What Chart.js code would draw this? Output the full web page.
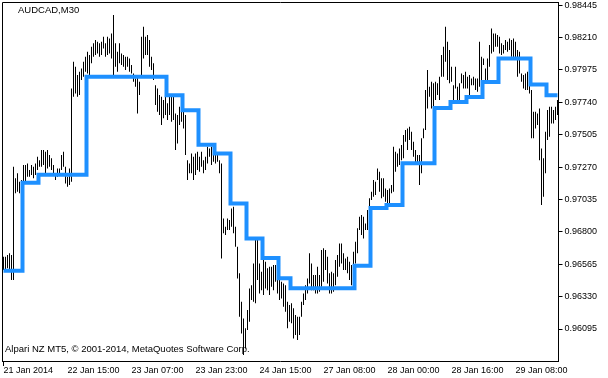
<!DOCTYPE html>
<html>
<head>
<meta charset="utf-8">
<script src="https://cdn.jsdelivr.net/npm/chart.js@4/dist/chart.umd.min.js"></script>
<style>
  html, body { margin: 0; padding: 0; background: #fff; }
  #wrap { width: 608px; height: 378px; position: relative; }
</style>
</head>
<body>
<div id="wrap"><canvas id="audcad"></canvas></div>
<script>
/* AUDCAD, M30 — bar chart with an H4 step line over it */

const symbol = 'AUDCAD,M30';
const footer = 'Alpari NZ MT5, \u00a9 2001-2014, MetaQuotes Software Corp.';

const yTicks = [0.98445, 0.98210, 0.97975, 0.97740, 0.97505, 0.97270,
                0.97035, 0.96800, 0.96565, 0.96330, 0.96095];
const xTickLabels = ['21 Jan 2014', '22 Jan 15:00', '23 Jan 07:00', '23 Jan 23:00',
                     '24 Jan 15:00', '27 Jan 08:00', '28 Jan 00:00', '28 Jan 16:00',
                     '29 Jan 08:00'];
const barsPerLabel = 32;

/* M30 highs and lows */
const highs = [
  0.96619, 0.96619, 0.96631, 0.96644, 0.96631, 0.97272, 0.97188, 0.97224, 0.97163, 0.97175,
  0.97284, 0.97284, 0.97296, 0.97248, 0.97284, 0.97272, 0.97296, 0.97345, 0.97320, 0.97393,
  0.97393, 0.97381, 0.97393, 0.97357, 0.97333, 0.97284, 0.97224, 0.97260, 0.97260, 0.97357,
  0.97381, 0.97272, 0.97200, 0.97260, 0.97840, 0.98034, 0.97997, 0.97937, 0.97961, 0.97985,
  0.98034, 0.98070, 0.98106, 0.98082, 0.98142, 0.98167, 0.98191, 0.98179, 0.98167, 0.98179,
  0.98215, 0.98167, 0.98215, 0.98203, 0.98239, 0.98372, 0.98167, 0.98106, 0.98167, 0.98094,
  0.98082, 0.98070, 0.98070, 0.98058, 0.98010, 0.97949, 0.97913, 0.97937, 0.97889, 0.98215,
  0.98288, 0.98215, 0.98227, 0.98191, 0.98070, 0.98022, 0.97864, 0.97840, 0.97792, 0.97780,
  0.97756, 0.97828, 0.97732, 0.97780, 0.97780, 0.97780, 0.97659, 0.97647, 0.97707, 0.97683,
  0.97707, 0.97647, 0.97320, 0.97296, 0.97369, 0.97345, 0.97369, 0.97381, 0.97345, 0.97381,
  0.97320, 0.97345, 0.97417, 0.97405, 0.97417, 0.97393, 0.97369, 0.97369, 0.97320, 0.97296,
  0.96897, 0.96837, 0.96897, 0.96885, 0.96970, 0.96982, 0.96837, 0.96692, 0.96499, 0.96293,
  0.96172, 0.96100, 0.96233, 0.96389, 0.96413, 0.96571, 0.96740, 0.96740, 0.96571, 0.96511,
  0.96607, 0.96583, 0.96535, 0.96547, 0.96547, 0.96559, 0.96559, 0.96474, 0.96450, 0.96438,
  0.96425, 0.96413, 0.96293, 0.96269, 0.96281, 0.96245, 0.96196, 0.96184, 0.96184, 0.96293,
  0.96353, 0.96413, 0.96462, 0.96644, 0.96571, 0.96486, 0.96486, 0.96547, 0.96486, 0.96668,
  0.96680, 0.96668, 0.96619, 0.96499, 0.96511, 0.96499, 0.96595, 0.96631, 0.96716, 0.96716,
  0.96644, 0.96607, 0.96619, 0.96583, 0.96559, 0.96656, 0.96728, 0.96825, 0.96910, 0.96922,
  0.96910, 0.96861, 0.96958, 0.97043, 0.97091, 0.97175, 0.97163, 0.97260, 0.97236, 0.97188,
  0.97188, 0.97115, 0.97103, 0.97115, 0.97139, 0.97417, 0.97381, 0.97369, 0.97405, 0.97429,
  0.97502, 0.97538, 0.97550, 0.97562, 0.97526, 0.97453, 0.97393, 0.97357, 0.97357, 0.97478,
  0.97550, 0.97828, 0.97973, 0.97852, 0.97889, 0.97877, 0.97889, 0.97877, 0.97925, 0.98082,
  0.98142, 0.98288, 0.98179, 0.98118, 0.97997, 0.97864, 0.97997, 0.97852, 0.97877, 0.97949,
  0.97937, 0.97961, 0.97925, 0.97937, 0.97913, 0.97925, 0.97913, 0.97913, 0.98179, 0.98070,
  0.98058, 0.97985, 0.98058, 0.98155, 0.98275, 0.98239, 0.98239, 0.98227, 0.98215, 0.98167,
  0.98155, 0.98191, 0.98179, 0.98203, 0.98191, 0.98203, 0.98179, 0.98118, 0.98106, 0.97949,
  0.97937, 0.97949, 0.97961, 0.97949, 0.97828, 0.97671, 0.97671, 0.97659, 0.97695, 0.97405,
  0.97333, 0.97526, 0.97683, 0.97707, 0.97707, 0.97683, 0.97707, 0.97756
];
const lows = [
  0.96523, 0.96523, 0.96535, 0.96511, 0.96450, 0.96450, 0.97079, 0.97091, 0.97079, 0.97103,
  0.97139, 0.97163, 0.97200, 0.97200, 0.97212, 0.97188, 0.97212, 0.97248, 0.97272, 0.97272,
  0.97284, 0.97224, 0.97260, 0.97272, 0.97248, 0.97212, 0.97175, 0.97200, 0.97212, 0.97248,
  0.97272, 0.97151, 0.97127, 0.97139, 0.97163, 0.97780, 0.97804, 0.97780, 0.97792, 0.97901,
  0.97925, 0.97961, 0.97949, 0.97937, 0.98022, 0.98070, 0.98082, 0.98094, 0.98070, 0.98082,
  0.98130, 0.98070, 0.98082, 0.98094, 0.98058, 0.97937, 0.97997, 0.97961, 0.98022, 0.98010,
  0.97997, 0.97973, 0.97997, 0.97961, 0.97949, 0.97889, 0.97852, 0.97659, 0.97792, 0.97937,
  0.98058, 0.98082, 0.98082, 0.97997, 0.97973, 0.97901, 0.97719, 0.97671, 0.97647, 0.97574,
  0.97623, 0.97647, 0.97611, 0.97647, 0.97598, 0.97611, 0.97393, 0.97441, 0.97574, 0.97598,
  0.97550, 0.97357, 0.97175, 0.97224, 0.97224, 0.97175, 0.97212, 0.97248, 0.97236, 0.97272,
  0.97224, 0.97248, 0.97296, 0.97345, 0.97284, 0.97308, 0.97296, 0.97308, 0.97224, 0.96607,
  0.96789, 0.96777, 0.96813, 0.96813, 0.96837, 0.96789, 0.96692, 0.96462, 0.96184, 0.96063,
  0.95906, 0.95954, 0.96088, 0.96148, 0.96305, 0.96293, 0.96281, 0.96450, 0.96353, 0.96377,
  0.96341, 0.96389, 0.96377, 0.96341, 0.96401, 0.96377, 0.96438, 0.96353, 0.96305, 0.96317,
  0.96257, 0.96220, 0.96100, 0.96148, 0.96136, 0.96027, 0.96051, 0.96015, 0.96051, 0.96184,
  0.96269, 0.96305, 0.96353, 0.96425, 0.96377, 0.96377, 0.96353, 0.96353, 0.96365, 0.96401,
  0.96438, 0.96523, 0.96425, 0.96353, 0.96353, 0.96365, 0.96413, 0.96474, 0.96547, 0.96571,
  0.96523, 0.96523, 0.96499, 0.96450, 0.96413, 0.96474, 0.96571, 0.96644, 0.96813, 0.96777,
  0.96752, 0.96813, 0.96813, 0.96934, 0.97030, 0.97055, 0.97067, 0.97175, 0.97091, 0.97043,
  0.97055, 0.97018, 0.97006, 0.97006, 0.97079, 0.97091, 0.97236, 0.97272, 0.97284, 0.97320,
  0.97333, 0.97453, 0.97393, 0.97466, 0.97393, 0.97345, 0.97296, 0.97296, 0.97139, 0.97224,
  0.97478, 0.97538, 0.97695, 0.97780, 0.97695, 0.97707, 0.97756, 0.97792, 0.97756, 0.97925,
  0.97925, 0.98034, 0.97901, 0.97877, 0.97889, 0.97756, 0.97840, 0.97756, 0.97744, 0.97877,
  0.97840, 0.97840, 0.97840, 0.97792, 0.97864, 0.97864, 0.97828, 0.97816, 0.97852, 0.97877,
  0.98010, 0.97901, 0.97901, 0.97997, 0.98094, 0.98106, 0.98142, 0.98142, 0.98094, 0.98082,
  0.98094, 0.98118, 0.98106, 0.98118, 0.98070, 0.98058, 0.98046, 0.97925, 0.97949, 0.97889,
  0.97840, 0.97828, 0.97828, 0.97804, 0.97478, 0.97478, 0.97550, 0.97574, 0.97320, 0.96994,
  0.97055, 0.97224, 0.97466, 0.97490, 0.97586, 0.97586, 0.97611, 0.97647
];

/* H4 indicator: one level per H4 block, and how many M30 bars each block covers */
const levels = [
  0.96518, 0.97156, 0.97214, 0.97214, 0.97214, 0.97924, 0.97924, 0.97924, 0.97924, 0.97924,
  0.97791, 0.97682, 0.97432, 0.97369, 0.97006, 0.96751, 0.96611, 0.96463, 0.96390, 0.96390,
  0.96390, 0.96390, 0.96553, 0.96972, 0.96994, 0.97297, 0.97297, 0.97699, 0.97742, 0.97778,
  0.97886, 0.98057, 0.98057, 0.97868, 0.97791
];
const blockBars = [
  10, 8, 8, 8, 8, 8, 8, 8, 8, 8,
  8, 8, 8, 8, 8, 8, 8, 6, 8, 8,
  8, 8, 8, 8, 8, 8, 8, 8, 8, 8,
  8, 8, 8, 8, 6
];

(function () {
  const canvas = document.getElementById('audcad');
  const font = '"Liberation Sans", Arial, sans-serif';

  const labels = highs.map((_, i) => String(i));
  const ohlc = highs.map((h, i) => [lows[i], h]);
  const step = [];
  levels.forEach((v, b) => { for (let k = 0; k < blockBars[b]; k++) step.push(v); });

  const frame = {
    id: 'frame',
    afterDraw(chart) {
      const { ctx, chartArea: a } = chart;
      const l = Math.floor(a.left) + 0.5, t = Math.floor(a.top) + 0.5;
      ctx.save();
      ctx.strokeStyle = '#000';
      ctx.lineWidth = 1;
      ctx.beginPath();
      ctx.moveTo(l, a.bottom);
      ctx.lineTo(l, t);
      ctx.lineTo(a.right, t);
      ctx.stroke();
      ctx.fillStyle = '#000';
      ctx.font = '9.5px ' + font;
      ctx.textBaseline = 'middle';
      ctx.fillText(symbol, a.left + 15.5, a.top + 8);
      ctx.fillText(footer, a.left + 2.5, a.bottom - 12);
      ctx.restore();
    }
  };

  new Chart(canvas, {
    data: {
      labels,
      datasets: [
        {
          type: 'line',
          data: step,
          borderColor: '#1e90ff',
          borderWidth: 4,
          stepped: 'middle',
          pointRadius: 0,
          borderJoinStyle: 'miter',
          borderCapStyle: 'butt',
          order: 0
        },
        {
          type: 'bar',
          data: ohlc,
          backgroundColor: '#000',
          borderWidth: 0,
          barThickness: 1,
          inflateAmount: 0,
          order: 1
        }
      ]
    },
    options: {
      responsive: true,
      maintainAspectRatio: false,
      animation: false,
      devicePixelRatio: 1,
      layout: { padding: { left: 2.5, top: 2, right: 0, bottom: 0 } },
      plugins: { legend: { display: false }, tooltip: { enabled: false } },
      scales: {
        x: {
          type: 'category',
          offset: true,
          afterFit: (s) => { s.height = 17; s.paddingLeft = 0; s.paddingRight = 0; },
          grid: {
            offset: false,
            drawOnChartArea: false,
            tickLength: 5,
            color: (c) => (c.index % barsPerLabel === 0 ? '#000' : 'rgba(0,0,0,0)')
          },
          border: { color: '#000' },
          ticks: {
            autoSkip: false,
            maxRotation: 0,
            minRotation: 0,
            align: 'start',
            padding: -1,
            color: '#000',
            font: { family: font, size: 9 },
            callback: (v, i) => (i % barsPerLabel === 0 ? xTickLabels[i / barsPerLabel] : null)
          }
        },
        y: {
          position: 'right',
          min: 0.95863,
          max: 0.98467,
          afterFit: (s) => { s.width = 49.5; s.paddingTop = 0; s.paddingBottom = 0; },
          afterBuildTicks: (s) => { s.ticks = yTicks.map((v) => ({ value: v })); },
          grid: { drawOnChartArea: false, tickLength: 4, color: '#000' },
          border: { color: '#000' },
          ticks: {
            padding: 2,
            color: '#000',
            font: { family: font, size: 9 },
            callback: (v) => v.toFixed(5)
          }
        }
      }
    },
    plugins: [frame]
  });
})();
</script>
</body>
</html>
